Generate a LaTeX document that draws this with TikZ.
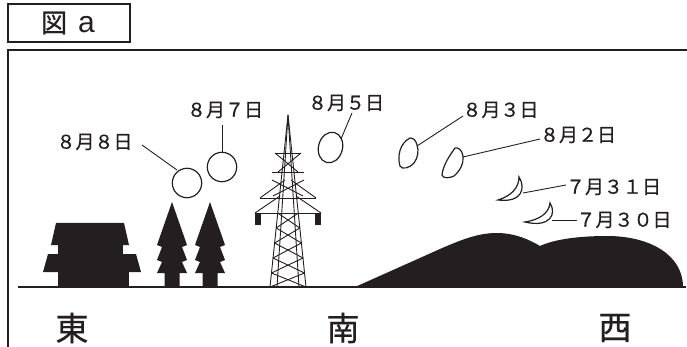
\documentclass[tikz,border=0pt]{standalone}
\usepackage{fontspec}
\newfontfamily\jpfont{Noto Sans CJK JP}[FakeBold=0.6]
\newfontfamily\latinfont{Liberation Sans}
\usetikzlibrary{calc}
\definecolor{ink}{HTML}{231F20}
\tikzset{
  frameline/.style={draw=ink, line width=1.4pt},
  datelabel/.style={font=\jpfont\fontsize{19}{21}\selectfont, inner sep=0pt, text=ink},
  dirlabel/.style={font=\jpfont\fontsize{33}{36}\selectfont, inner sep=0pt, text=ink},
  moon/.style={draw=ink, line width=1.2pt, fill=white},
  leader/.style={draw=ink, line width=0.9pt},
  solid fill/.style={fill=ink, draw=none},
  towerline/.style={draw=ink, line width=0.9pt, line join=round},
}
\begin{document}
\begin{tikzpicture}[x=1pt, y=-1pt]
\useasboundingbox (0,0) rectangle (687,347);

% title box
\node[frameline, minimum width=122pt, minimum height=38pt, inner sep=0pt] (titlebox) at (69,23) {};
\node[text=ink, inner sep=0pt] (title) at (68,23)
  {{\jpfont\fontsize{26}{28}\selectfont 図}\hspace{11pt}{\latinfont\fontsize{30}{30}\selectfont a}};

% outer frame (open to the right and below)
\draw[frameline] (8,347) -- (8,50) -- (687,50);

% hill
\fill[solid fill] (355,287) -- (440,249) .. controls (465,238) and (480,233) .. (497,233)
  .. controls (515,233) and (530,240) .. (540,246)
  .. controls (555,239) and (580,236) .. (607,236)
  .. controls (650,236) and (683,255) .. (683,287) -- cycle;

% ground line
\draw[draw=ink, line width=1.2pt] (18,287) -- (686,287);

% house
\fill[solid fill] (56,223) -- (124,223) -- (129,245) -- (51,245) -- cycle;
\fill[solid fill] (58,244) rectangle (123,255);
\fill[solid fill] (48,254) -- (136,254) -- (141,272) -- (43,272) -- cycle;
\fill[solid fill] (58,271) rectangle (129,287);

% trees
\foreach \cx in {172,210}{
  \fill[solid fill] (\cx,202) -- (\cx+15,245) -- (\cx+10,247) -- (\cx+15,260) -- (\cx+10,262)
    -- (\cx+15,273) -- (\cx+7.5,273) -- (\cx+7.5,287) -- (\cx-7.5,287) -- (\cx-7.5,273)
    -- (\cx-15,273) -- (\cx-10,262) -- (\cx-15,260) -- (\cx-10,247) -- (\cx-15,245) -- cycle;
}

% transmission tower
\coordinate (apex) at (288,115);
\draw[towerline] (270,287) -- (apex) -- (306,287);
\draw[towerline] (277,287) -- (apex) -- (299,287);
% upper arm with braces
\draw[towerline] (275,153) -- (301,153);
\draw[towerline] (275,153) -- (298,172) (301,153) -- (278,172);
\draw[towerline] (272,172) -- (304,172);
% middle arm
\draw[towerline] (260,198) -- (316,198);
\draw[towerline] (260,198) -- (285,180) (316,198) -- (291,180);
% lower arm
\draw[towerline] (255,213) -- (321,213);
\draw[towerline] (255,213) -- (280,196) (321,213) -- (296,196);
\draw[towerline] (272,180) -- (303,196) (304,180) -- (273,196);
% insulators
\fill[solid fill] (255,213) rectangle (261,225);
\fill[solid fill] (315,213) rectangle (321,225);
% lattice
\draw[towerline] (277.7,213) -- (299.8,228) -- (274.6,243) -- (303,258) -- (271.5,273) -- (306,287);
\draw[towerline] (298.3,213) -- (276.2,228) -- (301.4,243) -- (273,258) -- (304.5,273) -- (270,287);

% moons
\draw[moon] (187,183) circle (14.7);
\draw[moon] (222,167) circle (14.7);
\draw[moon] (330.5,147.5) ellipse [x radius=12, y radius=15.5, rotate=-15];
\draw[moon] (410,138) .. controls (400,143) and (397,156) .. (400,166)
  .. controls (402,170) and (410,168) .. (414,163)
  .. controls (418,158) and (419,150) .. (417,145)
  .. controls (416,141) and (414,138) .. (410,138) -- cycle;
\draw[moon] (455,148) .. controls (450,155) and (443,165) .. (442,175)
  .. controls (443,179) and (450,178) .. (454,176)
  .. controls (460,171) and (464,163) .. (463,156)
  .. controls (462,150) and (458,147) .. (455,148) -- cycle;
\draw[moon] (519,177) .. controls (526,188) and (522,203) .. (498,200)
  .. controls (511,196) and (519,188) .. (519,177) -- cycle;
\draw[moon] (550,203) .. controls (557,214) and (550,228) .. (525,222)
  .. controls (538,220) and (549,214) .. (550,203) -- cycle;

% date labels
\node[datelabel] (d88) at (94.5,142) {８月８日};
\node[datelabel] (d87) at (225,110) {８月７日};
\node[datelabel] (d85) at (346,103) {８月５日};
\node[datelabel] (d83) at (500.5,110) {８月３日};
\node[datelabel] (d82) at (578,135) {８月２日};
\node[datelabel] (d731) at (613.5,187) {７月３１日};
\node[datelabel] (d730) at (624,220) {７月３０日};

% leader ends on the moons
\coordinate (m88) at (177,170);
\coordinate (m87) at (222,152.3);
\coordinate (m85) at (341,139);
\coordinate (m83) at (417,146);
\coordinate (m82) at (463,157);
\coordinate (m731) at (523,193);
\coordinate (m730) at (552,220);
% leader ends next to the labels
\coordinate (l88) at (142,145);
\coordinate (l87) at (222,125);
\coordinate (l85) at (352,113);
\coordinate (l83) at (463,116);
\coordinate (l82) at (540,139);
\coordinate (l731) at (566,185);
\coordinate (l730) at (577,220);

\draw[leader] (l88) -- (m88);
\draw[leader] (l87) -- (m87);
\draw[leader] (l85) -- (m85);
\draw[leader] (l83) -- (m83);
\draw[leader] (l82) -- (m82);
\draw[leader] (l731) -- (m731);
\draw[leader] (l730) -- (m730);

% compass directions
\node[dirlabel] (east) at (72,328) {東};
\node[dirlabel] (south) at (343,328) {南};
\node[dirlabel] (west) at (615,328) {西};
\end{tikzpicture}
\end{document}
